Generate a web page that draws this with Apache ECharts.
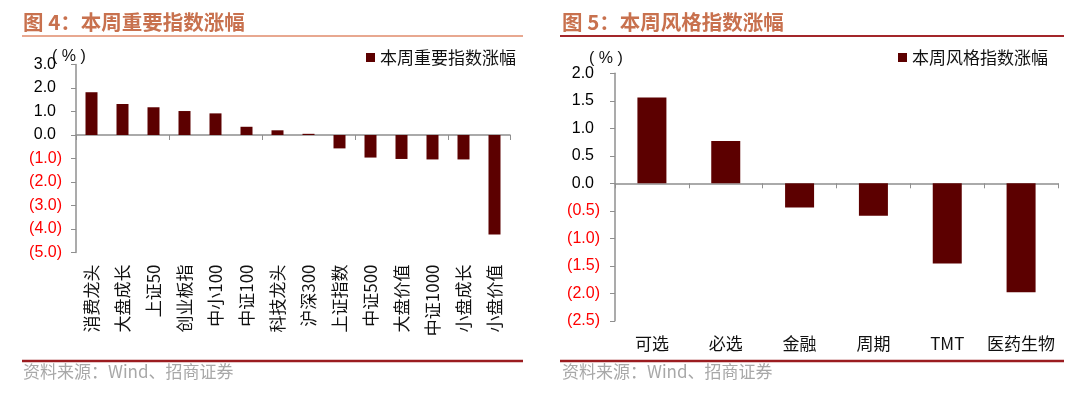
<!DOCTYPE html>
<html>
<head>
<meta charset="utf-8">
<script src="https://cdn.jsdelivr.net/npm/echarts@6/dist/echarts.min.js"></script>
<style>
html,body{margin:0;padding:0;background:#fff;}
#c{width:1080px;height:398px;}
</style>
</head>
<body>
<div id="c"></div>
<script>
// Left chart: 本周重要指数涨幅
const leftCategories = ['消费龙头','大盘成长','上证50','创业板指','中小100','中证100','科技龙头','沪深300','上证指数','中证500','大盘价值','中证1000','小盘成长','小盘价值'];
const leftValues = [1.82, 1.32, 1.18, 1.02, 0.92, 0.35, 0.20, 0.05, -0.57, -0.96, -1.02, -1.04, -1.04, -4.23];
const leftSeriesName = '本周重要指数涨幅';
const leftTitle = '图 4：本周重要指数涨幅';

// Right chart: 本周风格指数涨幅
const rightCategories = ['可选','必选','金融','周期','TMT','医药生物'];
const rightValues = [1.56, 0.77, -0.44, -0.59, -1.46, -1.98];
const rightSeriesName = '本周风格指数涨幅';
const rightTitle = '图 5：本周风格指数涨幅';

const sourceText = '资料来源：Wind、招商证券';
const unitText = '( % )';

const BAR = '#5c0000';
const AXIS = '#8f8f8f';
const CJK = '"Noto Sans CJK SC", "Liberation Sans", sans-serif';
const NUM = '"Liberation Sans", Arial, sans-serif';

function yFmt(v) {
  if (v < 0) return '{neg|(' + Math.abs(v).toFixed(1) + ')}';
  return '{pos|' + v.toFixed(1) + '}';
}
const yRich = {
  neg: {color: '#ff0000', fontSize: 16, fontFamily: NUM},
  pos: {color: '#000000', fontSize: 16, fontFamily: NUM, padding: [0, 6, 0, 0]}
};

const chart = echarts.init(document.getElementById('c'), null, {renderer: 'canvas'});

const option = {
  animation: false,
  backgroundColor: '#ffffff',
  legend: [
    {
      data: [leftSeriesName], left: 361, top: 44, itemWidth: 9, itemHeight: 9, itemGap: 5,
      icon: 'rect', textStyle: {fontSize: 17, fontFamily: CJK, color: '#111'}
    },
    {
      data: [rightSeriesName], left: 893, top: 44, itemWidth: 9, itemHeight: 9,
      icon: 'rect', textStyle: {fontSize: 17, fontFamily: CJK, color: '#111'}
    }
  ],
  grid: [
    {left: 76, top: 64.5, width: 434, height: 188, containLabel: false},
    {left: 615, top: 73.3, width: 443, height: 247.5, containLabel: false}
  ],
  xAxis: [
    {
      gridIndex: 0, type: 'category', data: leftCategories,
      axisLine: {onZero: true, lineStyle: {color: AXIS, width: 1.5}},
      axisTick: {show: true, length: 5, lineStyle: {color: AXIS}},
      axisLabel: {show: false}
    },
    {
      gridIndex: 0, type: 'category', data: leftCategories, position: 'bottom',
      axisLine: {show: false, onZero: false}, axisTick: {show: false},
      axisLabel: {rotate: 90, margin: 12, fontSize: 17, fontFamily: CJK, color: '#111', interval: 0}
    },
    {
      gridIndex: 1, type: 'category', data: rightCategories,
      axisLine: {onZero: true, lineStyle: {color: AXIS, width: 1.5}},
      axisTick: {show: true, length: 5, lineStyle: {color: AXIS}},
      axisLabel: {show: false}
    },
    {
      gridIndex: 1, type: 'category', data: rightCategories, position: 'bottom',
      axisLine: {show: false, onZero: false}, axisTick: {show: false},
      axisLabel: {margin: 14, fontSize: 17, fontFamily: CJK, color: '#111', interval: 0}
    }
  ],
  yAxis: [
    {
      gridIndex: 0, type: 'value', min: -5, max: 3, interval: 1,
      axisLine: {show: true, lineStyle: {color: AXIS, width: 1.5}},
      axisTick: {show: true, length: 5, lineStyle: {color: AXIS}},
      splitLine: {show: false},
      axisLabel: {margin: 14, formatter: yFmt, rich: yRich}
    },
    {
      gridIndex: 1, type: 'value', min: -2.5, max: 2, interval: 0.5,
      axisLine: {show: true, lineStyle: {color: AXIS, width: 1.5}},
      axisTick: {show: true, length: 5, lineStyle: {color: AXIS}},
      splitLine: {show: false},
      axisLabel: {margin: 15, formatter: yFmt, rich: yRich}
    }
  ],
  series: [
    {
      name: leftSeriesName, type: 'bar', xAxisIndex: 0, yAxisIndex: 0,
      data: leftValues, barWidth: 12, itemStyle: {color: BAR}
    },
    {
      name: rightSeriesName, type: 'bar', xAxisIndex: 2, yAxisIndex: 1,
      data: rightValues, barWidth: 29, itemStyle: {color: BAR}
    }
  ],
  graphic: [
    {type: 'text', left: 23, top: 12, style: {text: leftTitle, fontSize: 20.5, fontWeight: 'bold', fontFamily: CJK, fill: '#c8714e'}},
    {type: 'text', left: 562, top: 12, style: {text: rightTitle, fontSize: 20.5, fontWeight: 'bold', fontFamily: CJK, fill: '#c8714e'}},
    {type: 'line', shape: {x1: 22, y1: 36, x2: 523, y2: 36}, style: {stroke: '#e8a890', lineWidth: 2}},
    {type: 'line', shape: {x1: 560, y1: 36, x2: 1064, y2: 36}, style: {stroke: '#a3262a', lineWidth: 2}},
    {type: 'line', shape: {x1: 22, y1: 361, x2: 523, y2: 361}, style: {stroke: '#9b1c20', lineWidth: 2.5}},
    {type: 'line', shape: {x1: 560, y1: 361, x2: 1064, y2: 361}, style: {stroke: '#9b1c20', lineWidth: 2.5}},
    {type: 'text', left: 23, top: 363, style: {text: sourceText, fontSize: 17, fontFamily: CJK, fill: '#a8a8a8'}},
    {type: 'text', left: 562, top: 363, style: {text: sourceText, fontSize: 17, fontFamily: CJK, fill: '#a8a8a8'}},
    {type: 'text', left: 52, top: 49, style: {text: unitText, fontSize: 16, fontFamily: NUM, fill: '#111'}},
    {type: 'text', left: 589, top: 51, style: {text: unitText, fontSize: 16, fontFamily: NUM, fill: '#111'}}
  ]
};
chart.setOption(option);
</script>
</body>
</html>
